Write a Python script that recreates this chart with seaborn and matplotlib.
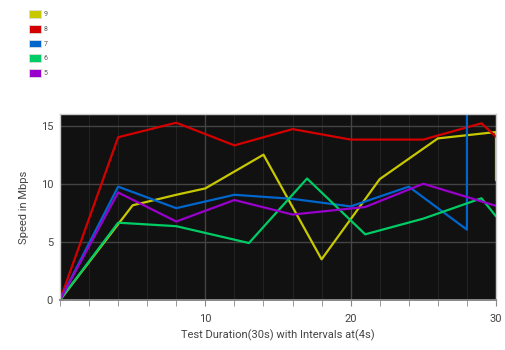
import matplotlib
matplotlib.use("Agg")
import matplotlib.pyplot as plt
import seaborn as sns
import pandas as pd
from matplotlib.patches import Patch
from matplotlib.ticker import MultipleLocator, FixedLocator

series_names = ["9", "8", "7", "6", "5"]
colors = ["#c8c800", "#d40000", "#0066cc", "#00cc66", "#9900cc"]

x9 = [0, 5, 8, 10, 14, 18, 22, 26, 30, 30]
y9 = [0, 8.15, 9.05, 9.6, 12.5, 3.5, 10.4, 13.9, 14.45, 10.3]
x8 = [0, 4, 8, 12, 16, 20, 25, 29, 30]
y8 = [0, 14.0, 15.25, 13.3, 14.7, 13.8, 13.8, 15.2, 14.05]
x7 = [0, 4, 8, 12, 16, 20, 24, 28, 28]
y7 = [0, 9.75, 7.9, 9.05, 8.7, 8.05, 9.75, 6.05, 40]
x6 = [0, 4, 8, 13, 17, 21, 25, 29, 30]
y6 = [0, 6.65, 6.35, 4.9, 10.45, 5.65, 7.0, 8.75, 7.2]
x5 = [0, 4, 8, 12, 16, 21, 25, 30]
y5 = [0, 9.25, 6.75, 8.6, 7.35, 8.0, 10.0, 8.1]

xs = [x9, x8, x7, x6, x5]
ys = [y9, y8, y7, y6, y5]

rows = []
for name, xv, yv in zip(series_names, xs, ys):
    for i, (a, b) in enumerate(zip(xv, yv)):
        rows.append({"series": name, "x": a, "y": b, "order": i})
df = pd.DataFrame(rows)

sns.set_style("dark")
plt.rcParams["font.family"] = ["Roboto", "DejaVu Sans"]

fig = plt.figure(figsize=(5.06, 3.5), dpi=100)
ax = fig.add_axes([60 / 506, 1 - 300 / 350, 436 / 506, 186 / 350])
ax.set_facecolor("#111111")

sns.lineplot(data=df, x="x", y="y", hue="series", hue_order=series_names,
             palette=colors, estimator=None, sort=False, units="series",
             linewidth=1.6, legend=False, ax=ax)

ax.set_xlim(0, 30)
ax.set_ylim(0, 16)
ax.xaxis.set_major_locator(FixedLocator([10, 20, 30]))
ax.xaxis.set_minor_locator(MultipleLocator(2))
ax.yaxis.set_major_locator(FixedLocator([0, 5, 10, 15]))
ax.grid(True, which="major", color="#444444", linewidth=1)
ax.grid(True, which="minor", axis="x", color="#222222", linewidth=0.8)
ax.set_axisbelow(True)
ax.tick_params(axis="x", which="both", direction="out", length=4, color="#888888",
               bottom=True, labelsize=8, labelcolor="#444444", pad=6)
ax.tick_params(axis="y", which="major", length=0, labelsize=8, labelcolor="#444444", pad=5)
for name, s in ax.spines.items():
    s.set_visible(True)
    if name == "bottom":
        s.set_color("#888888")
        s.set_linewidth(1.4)
    else:
        s.set_color("#cccccc")
        s.set_linewidth(1.0)
ax.set_xlabel("Test Duration(30s) with Intervals at(4s)", fontsize=8, color="#444444", labelpad=4)
ax.set_ylabel("Speed in Mbps", fontsize=8, color="#444444", labelpad=8)

handles = [Patch(facecolor=c, edgecolor="#dddddd", linewidth=0.6) for c in colors]
fig.legend(handles, series_names, loc="upper left", bbox_to_anchor=(23 / 506, 1 - 4 / 350),
           frameon=False, fontsize=5, handlelength=1.75, handleheight=1.3,
           labelspacing=0.95, handletextpad=0.3, labelcolor="#555555")

fig.savefig("out.png", dpi=100, facecolor="white")
